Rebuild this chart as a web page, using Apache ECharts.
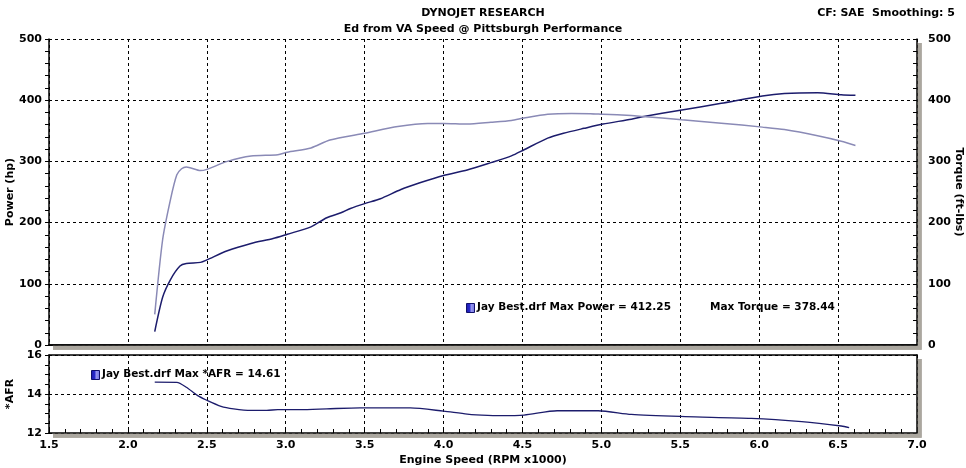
<!DOCTYPE html>
<html><head><meta charset="utf-8">
<script src="https://cdn.jsdelivr.net/npm/echarts@6/dist/echarts.min.js"></script>
<style>html,body{margin:0;padding:0;background:#fff}#c{width:966px;height:468px}</style>
</head><body><div id="c"></div>
<script>
// ---- data ----
const xTicks = [1.5, 2.0, 2.5, 3.0, 3.5, 4.0, 4.5, 5.0, 5.5, 6.0, 6.5, 7.0];
const powerRpm = [2.17,2.22,2.27,2.33,2.37,2.46,2.50,2.63,2.78,2.92,3.01,3.16,3.26,3.35,3.41,3.50,3.60,3.73,3.85,4.00,4.15,4.30,4.43,4.51,4.66,4.76,4.89,5.01,5.19,5.26,5.51,5.76,6.02,6.16,6.37,6.52,6.61];
const powerHp  = [22,78,107,129,133,135,139,154,166,174,181,193,208,216,223,231,239,254,265,277,286,298,309,319,338,346,354,361,369,373,384,395,407,411,412.25,409,408];
const torqueRpm = [2.17,2.22,2.27,2.31,2.34,2.37,2.46,2.50,2.63,2.78,2.95,3.01,3.16,3.28,3.50,3.71,3.90,4.00,4.15,4.30,4.43,4.51,4.66,4.81,4.93,5.01,5.19,5.26,5.51,5.76,6.02,6.16,6.37,6.52,6.61];
const torqueFtLb = [50,172,238,278,288,291,285,287,300,309,311,315,322,335,346,357,362,362,361,364,367,371,377,378.44,378,377,375,373.5,368,362.5,356,352,342,333,326];
const afrRpm = [2.17,2.31,2.37,2.44,2.50,2.59,2.67,2.78,2.88,2.95,3.09,3.26,3.47,3.79,4.00,4.15,4.28,4.36,4.51,4.72,4.98,5.19,5.53,5.95,6.27,6.52,6.57];
const afrValue = [14.61,14.6,14.35,13.93,13.68,13.37,13.24,13.16,13.16,13.2,13.2,13.24,13.29,13.29,13.12,12.97,12.9,12.89,12.92,13.14,13.14,12.95,12.84,12.75,12.58,12.36,12.28];
const powerTicks = [0, 100, 200, 300, 400, 500];
const afrTicks = [12, 14, 16];

const zip = (a, b) => a.map((v, i) => [v, b[i]]);
const FONT = 'DejaVu Sans';
const lbl = {fontFamily: FONT, fontWeight: 'bold', fontSize: 11, color: '#000'};
const dashed = {show: true, lineStyle: {color: '#000', type: [3, 3], width: 1}};
const solid = {show: true, lineStyle: {color: '#000', width: 1.5}};
const SHADOW = '#aba79f';
const iconFill = {type: 'linear', x: 0, y: 0, x2: 1, y2: 0, colorStops: [
  {offset: 0, color: '#1a1aa8'}, {offset: 0.45, color: '#2a2ad0'}, {offset: 0.55, color: '#9a9af0'}, {offset: 1, color: '#7070e0'}]};
const xMin = xTicks[0], xMax = xTicks[xTicks.length - 1];
const frameAxis = (extra) => Object.assign({type: 'value', axisLabel: {show: false}, axisTick: {show: false},
  splitLine: {show: false}, axisLine: solid}, extra);
const hiddenAxis = (gi) => ({type: 'value', gridIndex: gi, show: false, min: 0, max: 1});
const panel = {left: 49, right: 49, show: true, backgroundColor: '#fff', borderWidth: 0, containLabel: false, outerBoundsMode: 'none'};
const shadowPanel = {left: 53, right: 44.5, show: true, backgroundColor: SHADOW, borderWidth: 0, z: -1, containLabel: false, outerBoundsMode: 'none'};
// L-shaped drop shadow along the right and bottom edges of a panel (decoration only)
const shade = (id, l, t, r, b) => ({type: 'polygon', id: id, z: 100, silent: true,
  shape: {points: [[r + 0.8, t + 4], [r + 4.8, t + 4], [r + 4.8, b + 4.8], [l + 4, b + 4.8], [l + 4, b + 0.8], [r + 0.8, b + 0.8]]},
  style: {fill: SHADOW}});

const chart = echarts.init(document.getElementById('c'), null, {renderer: 'canvas'});
chart.setOption({
  animation: false,
  backgroundColor: '#fff',
  title: [
    {text: 'DYNOJET RESEARCH', left: 'center', top: 3, textStyle: {fontFamily: FONT, fontWeight: 'bold', fontSize: 11, color: '#000'}},
    {text: 'Ed from VA Speed @ Pittsburgh Performance', left: 'center', top: 19, textStyle: {fontFamily: FONT, fontWeight: 'bold', fontSize: 11, color: '#000'}},
    {text: 'CF: SAE  Smoothing: 5', right: 6, top: 3, textStyle: {fontFamily: FONT, fontWeight: 'bold', fontSize: 11, color: '#000'}}
  ],
  grid: [
    Object.assign({top: 39, height: 306}, panel),
    Object.assign({top: 355, height: 78}, panel),
    Object.assign({top: 43, height: 306.8}, shadowPanel),
    Object.assign({top: 359, height: 78.8}, shadowPanel)
  ],
  xAxis: [
    {type: 'value', gridIndex: 0, min: xMin, max: xMax, interval: 0.5,
     axisLabel: {show: false}, axisTick: {show: false}, axisLine: solid, splitLine: dashed},
    {type: 'value', gridIndex: 1, min: xMin, max: xMax, interval: 0.5,
     axisLabel: Object.assign({formatter: v => v.toFixed(1), margin: 7}, lbl),
     axisTick: {show: true, inside: true, length: 4, lineStyle: {color: '#000'}},
     minorTick: {show: true, splitNumber: 5, length: 4, lineStyle: {color: '#000'}},
     axisLine: solid,
     splitLine: dashed,
     name: 'Engine Speed (RPM x1000)', nameLocation: 'middle', nameGap: 22,
     nameTextStyle: lbl},
    frameAxis({gridIndex: 0, position: 'top', min: xMin, max: xMax}),
    frameAxis({gridIndex: 1, position: 'top', min: xMin, max: xMax}),
    hiddenAxis(2), hiddenAxis(3)
  ],
  yAxis: [
    {type: 'value', gridIndex: 0, min: powerTicks[0], max: powerTicks[powerTicks.length - 1], interval: 100,
     axisLabel: Object.assign({margin: 7}, lbl),
     axisTick: {show: true, length: 4, lineStyle: {color: '#000'}},
     minorTick: {show: true, splitNumber: 5, length: 4, lineStyle: {color: '#000'}},
     axisLine: solid,
     splitLine: dashed,
     name: 'Power (hp)', nameLocation: 'middle', nameGap: 33, nameMoveOverlap: false, nameTextStyle: lbl},
    {type: 'value', gridIndex: 0, position: 'right', min: powerTicks[0], max: powerTicks[powerTicks.length - 1], interval: 100,
     axisLabel: Object.assign({margin: 11}, lbl),
     axisTick: {show: true, inside: true, length: 4, lineStyle: {color: '#000'}},
     minorTick: {show: true, splitNumber: 5, length: 4, lineStyle: {color: '#000'}},
     axisLine: solid,
     splitLine: {show: false},
     name: 'Torque (ft-lbs)', nameLocation: 'middle', nameGap: 36, nameRotate: -90, nameMoveOverlap: false, nameTextStyle: lbl},
    {type: 'value', gridIndex: 1, min: afrTicks[0], max: afrTicks[afrTicks.length - 1], interval: 2,
     axisLabel: Object.assign({margin: 7}, lbl),
     axisTick: {show: true, length: 4, lineStyle: {color: '#000'}},
     minorTick: {show: true, splitNumber: 4, length: 4, lineStyle: {color: '#000'}},
     axisLine: solid,
     splitLine: dashed,
     name: '*AFR', nameLocation: 'middle', nameGap: 33, nameMoveOverlap: false, nameTextStyle: lbl},
    frameAxis({gridIndex: 1, position: 'right', min: afrTicks[0], max: afrTicks[afrTicks.length - 1]}),
    hiddenAxis(2), hiddenAxis(3)
  ],
  series: [
    {name: 'Power', type: 'line', xAxisIndex: 0, yAxisIndex: 0, data: zip(powerRpm, powerHp),
     showSymbol: false, smooth: 0.25, lineStyle: {color: '#1c1c6c', width: 1.5}},
    {name: 'Torque', type: 'line', xAxisIndex: 0, yAxisIndex: 1, data: zip(torqueRpm, torqueFtLb),
     showSymbol: false, smooth: 0.25, lineStyle: {color: '#8a8ab6', width: 1.5}},
    {name: 'AFR', type: 'line', xAxisIndex: 1, yAxisIndex: 2, data: zip(afrRpm, afrValue),
     showSymbol: false, smooth: 0.25, lineStyle: {color: '#1c1c6c', width: 1.3}}
  ],
  graphic: {elements: [
    shade('shadeMain', 49, 39, 917, 345),
    shade('shadeAfr', 49, 355, 917, 433),
    {type: 'rect', id: 'i1', left: 466, top: 303, shape: {width: 8, height: 9}, style: {fill: iconFill, stroke: '#10106a', lineWidth: 1}},
    {type: 'text', id: 't1', left: 477, top: 302, style: {text: 'Jay Best.drf Max Power = 412.25', font: 'bold 10.5px "DejaVu Sans"', fill: '#000'}},
    {type: 'text', id: 't2', left: 710, top: 302, style: {text: 'Max Torque = 378.44', font: 'bold 10.5px "DejaVu Sans"', fill: '#000'}},
    {type: 'rect', id: 'i2', left: 91, top: 370, shape: {width: 8, height: 9}, style: {fill: iconFill, stroke: '#10106a', lineWidth: 1}},
    {type: 'text', id: 't3', left: 102, top: 369, style: {text: 'Jay Best.drf Max *AFR = 14.61', font: 'bold 10.5px "DejaVu Sans"', fill: '#000'}}
  ]}
});
</script></body></html>
